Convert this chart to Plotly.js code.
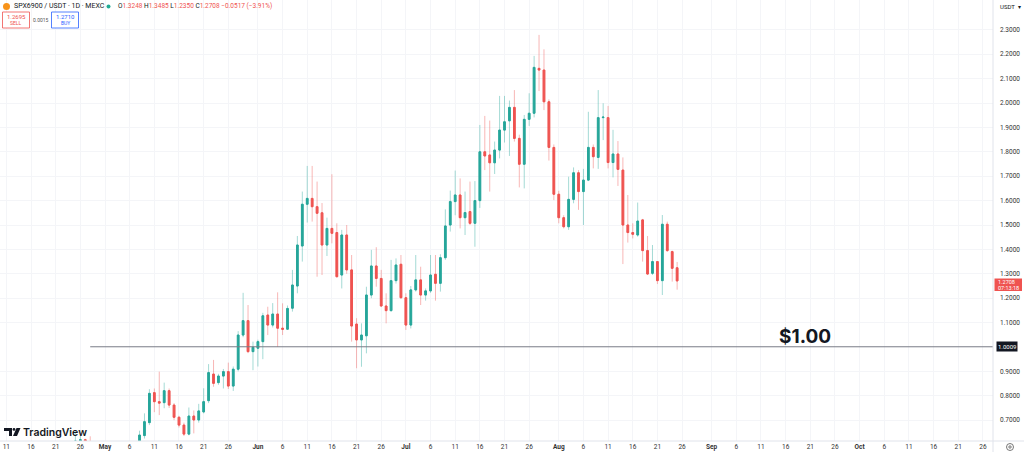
<!DOCTYPE html>
<html><head><meta charset="utf-8">
<script src="https://cdn.plot.ly/plotly-3.0.1.min.js"></script>
<style>html,body{margin:0;padding:0;background:#fff;}#chart{width:1024px;height:452px;}</style>
</head><body><div id="chart"></div>
<script>
const dates = [
 '2025-04-25','2025-04-26','2025-04-27','2025-04-28',
 '2025-05-08','2025-05-09','2025-05-10','2025-05-11','2025-05-12','2025-05-13','2025-05-14','2025-05-15','2025-05-16','2025-05-17','2025-05-18','2025-05-19','2025-05-20','2025-05-21','2025-05-22','2025-05-23','2025-05-24','2025-05-25','2025-05-26','2025-05-27','2025-05-28','2025-05-29','2025-05-30','2025-05-31',
 '2025-06-01','2025-06-02','2025-06-03','2025-06-04','2025-06-05','2025-06-06','2025-06-07','2025-06-08','2025-06-09','2025-06-10','2025-06-11','2025-06-12','2025-06-13','2025-06-14','2025-06-15','2025-06-16','2025-06-17','2025-06-18','2025-06-19','2025-06-20','2025-06-21','2025-06-22','2025-06-23','2025-06-24','2025-06-25','2025-06-26','2025-06-27','2025-06-28','2025-06-29','2025-06-30',
 '2025-07-01','2025-07-02','2025-07-03','2025-07-04','2025-07-05','2025-07-06','2025-07-07','2025-07-08','2025-07-09','2025-07-10','2025-07-11','2025-07-12','2025-07-13','2025-07-14','2025-07-15','2025-07-16','2025-07-17','2025-07-18','2025-07-19','2025-07-20','2025-07-21','2025-07-22','2025-07-23','2025-07-24','2025-07-25','2025-07-26','2025-07-27','2025-07-28','2025-07-29','2025-07-30','2025-07-31',
 '2025-08-01','2025-08-02','2025-08-03','2025-08-04','2025-08-05','2025-08-06','2025-08-07','2025-08-08','2025-08-09','2025-08-10','2025-08-11','2025-08-12','2025-08-13','2025-08-14','2025-08-15','2025-08-16','2025-08-17','2025-08-18','2025-08-19','2025-08-20','2025-08-21','2025-08-22','2025-08-23','2025-08-24','2025-08-25'
];
const openP = [
 0.600,0.615,0.620,0.600,
 0.600,0.637,0.690,0.813,0.776,0.772,0.821,0.762,0.712,0.680,0.643,0.717,0.701,0.734,0.780,0.889,0.854,0.881,0.899,0.840,0.909,1.049,1.108,0.981,
 0.995,1.022,1.131,1.090,1.135,1.077,1.073,1.159,1.250,1.414,1.585,1.609,1.575,1.550,1.418,1.486,1.469,1.295,1.459,1.316,1.094,1.029,1.046,1.213,1.332,1.281,1.168,1.149,1.272,1.339,
 1.202,1.090,1.234,1.275,1.213,1.230,1.298,1.261,1.366,1.500,1.596,1.623,1.530,1.555,1.507,1.600,1.800,1.787,1.755,1.807,1.889,1.927,1.982,1.855,1.749,1.933,1.958,2.142,2.135,2.005,1.818,
 1.626,1.530,1.493,1.605,1.714,1.637,1.684,1.818,1.777,1.940,1.940,1.756,1.791,1.725,1.500,1.469,1.459,1.521,1.395,1.302,1.350,1.272,1.503,1.391,1.3248
];
const highP = [
 0.656,0.636,0.624,0.634,
 0.657,0.728,0.827,0.830,0.899,0.854,0.830,0.770,0.718,0.690,0.752,0.740,0.767,0.831,0.930,0.947,0.890,0.910,0.936,0.920,1.065,1.222,1.172,1.022,
 1.030,1.140,1.165,1.180,1.224,1.179,1.170,1.316,1.455,1.637,1.742,1.742,1.678,1.590,1.530,1.708,1.507,1.480,1.500,1.377,1.118,1.097,1.247,1.398,1.409,1.316,1.220,1.357,1.363,1.377,
 1.220,1.250,1.377,1.329,1.240,1.377,1.377,1.380,1.564,1.641,1.723,1.691,1.637,1.678,1.680,1.910,1.947,1.928,1.842,2.029,2.029,2.010,2.053,1.870,1.951,2.040,2.193,2.279,2.220,2.015,1.830,
 1.640,1.540,1.698,1.736,1.725,1.730,1.964,1.830,2.053,1.999,1.988,1.890,1.844,1.777,1.623,1.507,1.592,1.525,1.455,1.418,1.352,1.541,1.514,1.395,1.3485
];
const lowP = [
 0.570,0.595,0.590,0.575,
 0.590,0.625,0.680,0.733,0.721,0.749,0.750,0.700,0.670,0.635,0.638,0.646,0.690,0.728,0.770,0.837,0.845,0.830,0.828,0.820,0.900,1.040,0.975,0.905,
 0.920,0.950,1.049,1.080,1.000,1.049,1.070,1.145,1.220,1.350,1.510,1.514,1.288,1.295,1.373,1.425,1.285,1.240,1.300,1.022,0.913,0.919,0.974,1.200,1.247,1.165,1.097,1.145,1.260,1.198,
 1.070,1.076,1.227,1.172,1.190,1.222,1.190,1.227,1.357,1.473,1.540,1.486,1.459,1.500,1.411,1.570,1.725,1.637,1.709,1.773,1.838,1.783,1.842,1.654,1.650,1.906,1.941,2.049,1.971,1.764,1.602,
 1.507,1.486,1.480,1.589,1.562,1.500,1.680,1.732,1.730,1.848,1.732,1.695,1.660,1.340,1.428,1.445,1.452,1.350,1.295,1.295,1.258,1.213,1.390,1.268,1.2350
];
const closeP = [
 0.615,0.620,0.600,0.585,
 0.639,0.694,0.810,0.776,0.770,0.821,0.762,0.712,0.680,0.643,0.717,0.701,0.738,0.776,0.895,0.851,0.881,0.899,0.840,0.909,1.049,1.108,0.981,0.999,
 1.022,1.128,1.090,1.135,1.077,1.073,1.158,1.254,1.418,1.585,1.609,1.575,1.548,1.418,1.486,1.466,1.288,1.459,1.316,1.086,1.029,1.049,1.213,1.332,1.281,1.168,1.149,1.272,1.336,1.202,
 1.090,1.234,1.275,1.213,1.230,1.295,1.261,1.366,1.496,1.596,1.623,1.530,1.551,1.507,1.600,1.800,1.783,1.755,1.807,1.889,1.923,1.982,1.855,1.749,1.933,1.958,2.146,2.135,2.005,1.818,1.626,
 1.530,1.493,1.605,1.714,1.637,1.684,1.818,1.780,1.940,1.942,1.756,1.791,1.728,1.500,1.469,1.462,1.516,1.395,1.299,1.350,1.272,1.503,1.395,1.3225,1.2708
];
const xTickVals = ['2025-04-11','2025-04-16','2025-04-21','2025-04-26','2025-05-01','2025-05-06','2025-05-11','2025-05-16','2025-05-21','2025-05-26','2025-06-01','2025-06-06','2025-06-11','2025-06-16','2025-06-21','2025-06-26','2025-07-01','2025-07-06','2025-07-11','2025-07-16','2025-07-21','2025-07-26','2025-08-01','2025-08-06','2025-08-11','2025-08-16','2025-08-21','2025-08-26','2025-09-01','2025-09-06','2025-09-11','2025-09-16','2025-09-21','2025-09-26','2025-10-01','2025-10-06','2025-10-11','2025-10-16','2025-10-21','2025-10-26'];
const xTickText = ['11','16','21','26','<b>May</b>','6','11','16','21','26','<b>Jun</b>','6','11','16','21','26','<b>Jul</b>','6','11','16','21','26','<b>Aug</b>','6','11','16','21','26','<b>Sep</b>','6','11','16','21','26','<b>Oct</b>','6','11','16','21','26'];
const yTickVals = [0.7,0.8,0.9,1.1,1.2,1.3,1.4,1.5,1.6,1.7,1.8,1.9,2.0,2.1,2.2,2.3];
const yTickText = ['0.7000','0.8000','0.9000','1.1000','1.2000','1.3000','1.4000','1.5000','1.6000','1.7000','1.8000','1.9000','2.0000','2.1000','2.2000','2.3000'];
const levelPrice = 1.0009;
const levelStart = '2025-04-28';
const lastPrice = 1.2708;
const countdown = '07:13:18';
const header = {symbol:'SPX6900 / USDT · 1D · MEXC', o:'1.3248', h:'1.3485', l:'1.2350', c:'1.2708', chg:'−0.0517 (−3.91%)', sell:'1.2695', buy:'1.2710', spread:'0.0015'};

const UP='#26a69a', DN='#ef5350';
const W=993, H=441; // plot area in px
const px = x => x / W;
const py = y => 1 - y / H;
const bodyHigh = openP.map((o,i)=>Math.max(o, closeP[i]));
const bodyLow = openP.map((o,i)=>Math.min(o, closeP[i]));

const wick = {type:'candlestick', x:dates, open:openP, high:highP, low:lowP, close:closeP,
  increasing:{line:{color:'rgba(38,166,154,0.42)', width:1}, fillcolor:'rgba(0,0,0,0)'},
  decreasing:{line:{color:'rgba(239,83,80,0.42)', width:1}, fillcolor:'rgba(0,0,0,0)'},
  whiskerwidth:0, hoverinfo:'skip', showlegend:false};
const body = {type:'candlestick', x:dates, open:openP, high:bodyHigh, low:bodyLow, close:closeP,
  increasing:{line:{color:UP, width:1}, fillcolor:UP},
  decreasing:{line:{color:DN, width:1}, fillcolor:DN},
  whiskerwidth:0, hoverinfo:'skip', showlegend:false};

const F = 'Roboto, Arial, sans-serif';
const ann = [];
function t(x,y,text,size,color,opts){ ann.push(Object.assign({xref:'paper',yref:'paper',x:px(x),y:py(y),text:text,showarrow:false,xanchor:'left',yanchor:'middle',font:{family:F,size:size,color:color}},opts||{})); }
t(12,6.5,header.symbol,7,'#131722');
t(116,6.5,'O<span style="color:#ef5350">'+header.o+'</span> H<span style="color:#ef5350">'+header.h+'</span> L<span style="color:#ef5350">'+header.l+'</span> C<span style="color:#ef5350">'+header.c+' '+header.chg+'</span>',6.5,'#131722');
t(16,16.5,header.sell,6,DN,{xanchor:'center'});
t(16,23.5,'SELL',5,DN,{xanchor:'center'});
t(41,20,header.spread,5,'#555',{xanchor:'center'});
t(65,16.5,header.buy,6,'#2962ff',{xanchor:'center'});
t(65,23.5,'BUY',5,'#2962ff',{xanchor:'center'});
t(998,7,'USDT  ▾',6,'#131722');
t(21,432,'TradingView',10.5,'#131722',{font:{family:'Inter, Roboto, sans-serif',size:10.5,color:'#131722',weight:600}});
ann.push({xref:'paper',yref:'y',x:px(804.5),y:levelPrice,yshift:10,text:'<b>$1.00</b>',showarrow:false,xanchor:'center',yanchor:'middle',font:{family:'Inter, Roboto, sans-serif',size:19,color:'#131722'}});
// last price box (red) with countdown
t(996,282.3,lastPrice.toFixed(4),5.5,'#fff');
t(996,287.8,countdown,5.5,'#fff');
ann.push({xref:'paper',yref:'y',x:px(995.5),y:levelPrice,text:levelPrice.toFixed(4),showarrow:false,xanchor:'left',yanchor:'middle',bgcolor:'#131722',borderpad:1,font:{family:F,size:6,color:'#fff'}});

const shapes = [
  {type:'line',xref:'x',yref:'y',x0:levelStart,x1:'2025-10-28 01:00',y0:levelPrice,y1:levelPrice,line:{color:'#787b86',width:1}},
  {type:'line',xref:'paper',yref:'paper',x0:1,x1:1,y0:py(0),y1:py(452),line:{color:'#e0e3eb',width:1}},
  {type:'line',xref:'paper',yref:'paper',x0:0,x1:px(1024),y0:0,y1:0,line:{color:'#e0e3eb',width:1}},
  {type:'rect',xref:'paper',yref:'paper',x0:px(994.5),x1:px(1022),y0:py(278.5),y1:py(291),line:{width:0},fillcolor:DN,layer:'below'},
  {type:'rect',xref:'paper',yref:'paper',x0:px(2.5),x1:px(29.5),y0:py(12),y1:py(28),line:{color:DN,width:0.8},fillcolor:'#fff'},
  {type:'rect',xref:'paper',yref:'paper',x0:px(51.5),x1:px(78.5),y0:py(12),y1:py(28),line:{color:'#2962ff',width:0.8},fillcolor:'#fff'},
  {type:'circle',xref:'paper',yref:'paper',x0:px(3),x1:px(10),y0:py(3),y1:py(10),line:{width:0},fillcolor:'#f7931a'},
  {type:'circle',xref:'paper',yref:'paper',x0:px(106.5),x1:px(110.5),y0:py(4.5),y1:py(8.5),line:{width:0},fillcolor:'#22ab94'},
  {type:'path',xref:'paper',yref:'paper',path:'M '+px(4)+' '+py(428)+' L '+px(12)+' '+py(428)+' L '+px(12)+' '+py(436)+' L '+px(9)+' '+py(436)+' L '+px(9)+' '+py(431)+' L '+px(4)+' '+py(431)+' Z',line:{width:0},fillcolor:'#131722'},
  {type:'circle',xref:'paper',yref:'paper',x0:px(12.6),x1:px(15.4),y0:py(428),y1:py(430.8),line:{width:0},fillcolor:'#131722'},
  {type:'path',xref:'paper',yref:'paper',path:'M '+px(16.5)+' '+py(428)+' L '+px(20.5)+' '+py(428)+' L '+px(17)+' '+py(436)+' L '+px(13)+' '+py(436)+' Z',line:{width:0},fillcolor:'#131722'},
  {type:'circle',xref:'paper',yref:'paper',x0:px(1006.5),x1:px(1013.5),y0:py(443.5),y1:py(450.5),line:{color:'#555',width:0.8}},
  {type:'circle',xref:'paper',yref:'paper',x0:px(1008.8),x1:px(1011.2),y0:py(445.8),y1:py(448.2),line:{color:'#555',width:0.8}}
];

const layout = {
  width:1024, height:452, margin:{l:0,r:31,t:0,b:11},
  paper_bgcolor:'#fff', plot_bgcolor:'#fff', showlegend:false,
  boxgap:0.5, boxmode:'overlay', dragmode:false,
  font:{family:F, size:6.5, color:'#131722'},
  xaxis:{type:'date', range:['2025-04-09 17:00','2025-10-28 01:00'], tickmode:'array', tickvals:xTickVals, ticktext:xTickText,
    showgrid:true, gridcolor:'#f4f5f8', gridwidth:1, zeroline:false, showline:false, ticks:'', automargin:false,
    tickfont:{family:F,size:6.5,color:'#333'}, rangeslider:{visible:false}, fixedrange:true},
  yaxis:{side:'right', range:[1+(347-441)/244, 1+347/244], tickmode:'array', tickvals:yTickVals, ticktext:yTickText,
    showgrid:true, gridcolor:'#f4f5f8', gridwidth:1, zeroline:false, showline:false, ticks:'', automargin:false, ticklabelstandoff:6,
    tickfont:{family:F,size:6.5,color:'#333'}, fixedrange:true},
  annotations:ann, shapes:shapes
};
Plotly.newPlot('chart',[wick,body],layout,{displayModeBar:false,staticPlot:true});
</script></body></html>
